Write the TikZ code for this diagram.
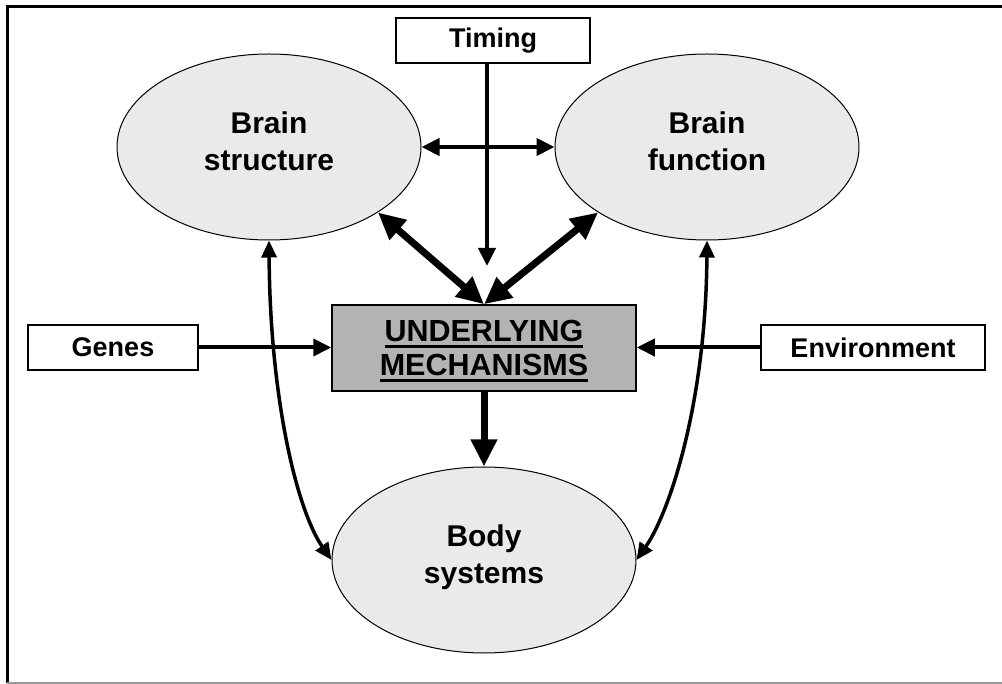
\documentclass[tikz,border=0pt]{standalone}
\usepackage{fontspec}
\setmainfont{Liberation Sans}
\usepackage{tikz}
\usetikzlibrary{arrows.meta,shapes.geometric,positioning}
\tikzset{>=Triangle}
\definecolor{ellgray}{HTML}{EAEAEA}
\definecolor{mechgray}{HTML}{B3B3B3}
\newcommand{\mechul}[1]{\sbox0{#1}\rlap{\smash{\rule[-7pt]{\wd0}{3pt}}}\usebox0}

\begin{document}
\begin{tikzpicture}[x=1pt,y=-1pt,
  blob/.style={ellipse,draw,line width=1pt,fill=ellgray,minimum width=304pt,minimum height=186pt,inner sep=0pt,align=center,font=\fontsize{30}{37}\selectfont\bfseries,execute at end node={\rule[-12pt]{0pt}{0pt}}},
  factor/.style={draw,line width=1.5pt,fill=white,minimum height=45pt,inner sep=0pt,font=\fontsize{27}{33}\selectfont\bfseries},
  link/.style={line width=4pt,-{Triangle[length=18pt,width=17pt]}},
  bothlink/.style={line width=4pt,{Triangle[length=18pt,width=17pt]}-{Triangle[length=18pt,width=17pt]}},
  biglink/.style={line width=7pt,-{Triangle[length=27pt,width=25pt]}},
  bigboth/.style={line width=7pt,{Triangle[length=27pt,width=25pt]}-{Triangle[length=27pt,width=25pt]}},
  curvelink/.style={line width=3.5pt,{Triangle[length=17pt,width=15pt]}-{Triangle[length=17pt,width=15pt]}}]

\useasboundingbox (0,0) rectangle (1002,684);
% frame
\draw[line width=3pt] (7,683) -- (7,7) -- (1002,7);
\draw[gray!80,line width=2pt] (7,683) -- (1002,683);

% ellipses
\node[blob] (bs) at (269,147) {Brain\\structure};
\node[blob] (bf) at (707,147) {Brain\\function};
\node[blob] (body) at (484,560) {Body\\systems};

% boxes
\node[draw,line width=1.5pt,fill=mechgray,minimum width=304pt,minimum height=86pt,inner sep=0pt,align=center,font=\fontsize{30.5}{34}\selectfont\bfseries] (mech) at (484,348) {\mechul{UNDERLYING}\\\mechul{MECHANISMS}};
\node[factor,minimum width=194pt] (timing) at (493,40.5) {Timing};
\node[factor,minimum width=170pt] (genes) at (113,347.5) {Genes};
\node[factor,minimum width=224pt] (env) at (873,347.5) {Environment};

% arrows
\coordinate (tend) at (487,266);
\draw[link] (timing.south -| tend) -- (tend);
\draw[bothlink] (bs.east) -- (bf.west);
\draw[link] (genes.east) -- (genes.east -| mech.west);
\draw[link] (env.west) -- (env.west -| mech.east);
\draw[bigboth] (mech.north) -- (bs.-31);
\draw[bigboth] (mech.north) -- (bf.-149);
\draw[biglink] (mech.south) -- (body.north);
\draw[curvelink] (bs.south) .. controls +(1,160) and +(-34,-49) .. (body.west);
\draw[curvelink] (bf.south) .. controls +(-1,160) and +(34,-49) .. (body.east);
\end{tikzpicture}
\end{document}
